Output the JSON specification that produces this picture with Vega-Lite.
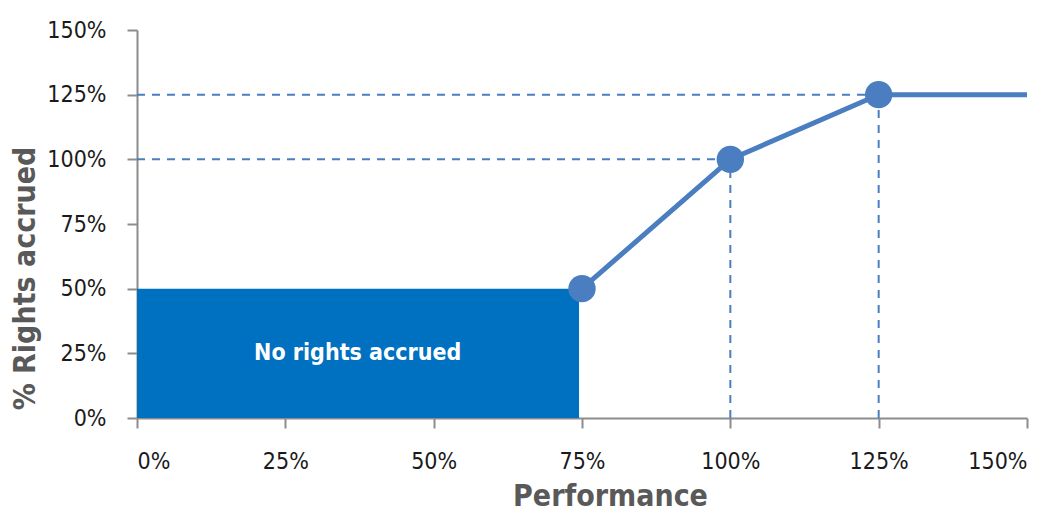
{
  "$schema": "https://vega.github.io/schema/vega-lite/v6.json",
  "autosize": "none",
  "width": 890,
  "height": 388,
  "padding": {"left": 137, "top": 30, "right": 29, "bottom": 94},
  "background": "white",
  "config": {
    "view": {"stroke": null},
    "font": "DejaVu Sans Condensed"
  },
  "datasets": {
    "box": [{"x": 0, "x2": 0.745, "y": 0, "y2": 0.5, "label": "No rights accrued", "lx": 0.372, "ly": 0.25}],
    "curve": [
      {"perf": 0.75, "rights": 0.5, "marker": true},
      {"perf": 1.0, "rights": 1.0, "marker": true},
      {"perf": 1.25, "rights": 1.25, "marker": true},
      {"perf": 1.5, "rights": 1.25, "marker": false}
    ],
    "guides": [
      {"x": 0, "x2": 1.25, "y": 1.25, "y2": 1.25},
      {"x": 0, "x2": 1.0, "y": 1.0, "y2": 1.0},
      {"x": 1.0, "x2": 1.0, "y": 0, "y2": 1.0},
      {"x": 1.25, "x2": 1.25, "y": 0, "y2": 1.25}
    ]
  },
  "layer": [
    {
      "data": {"name": "box"},
      "mark": {"type": "rect", "color": "#0070C0"},
      "encoding": {
        "x": {"field": "x", "type": "quantitative", "scale": {"domain": [0, 1.5], "nice": false},
          "axis": {"title": "Performance", "format": ".0%", "values": [0, 0.25, 0.5, 0.75, 1, 1.25, 1.5],
            "domainColor": "#8c8c8c", "domainWidth": 2, "tickColor": "#8c8c8c", "tickWidth": 2, "tickSize": 10,
            "labelFontSize": 23, "labelColor": "#1a1a1a", "labelPadding": 22, "labelFont": "DejaVu Sans Condensed",
            "titleFontSize": 30, "titleFontWeight": "bold", "titleColor": "#595959", "titlePadding": 8, "titleX": 473, "titleFont": "DejaVu Sans Condensed", "grid": false}},
        "x2": {"field": "x2"},
        "y": {"field": "y", "type": "quantitative", "scale": {"domain": [0, 1.5], "nice": false},
          "axis": {"title": "% Rights accrued", "format": ".0%", "values": [0, 0.25, 0.5, 0.75, 1, 1.25, 1.5],
            "domainColor": "#8c8c8c", "domainWidth": 2, "tickColor": "#8c8c8c", "tickWidth": 2, "tickSize": 10,
            "labelFontSize": 23, "labelColor": "#1a1a1a", "labelPadding": 21, "labelFont": "DejaVu Sans Condensed",
            "titleFontSize": 30, "titleFontWeight": "bold", "titleColor": "#595959", "titlePadding": 6, "titleY": 248, "titleAlign": "center", "titleFont": "DejaVu Sans Condensed", "grid": false}},
        "y2": {"field": "y2"}
      }
    },
    {
      "data": {"name": "box"},
      "mark": {"type": "text", "color": "white", "fontSize": 23, "fontWeight": "bold", "font": "DejaVu Sans Condensed"},
      "encoding": {
        "x": {"field": "lx", "type": "quantitative"},
        "y": {"field": "ly", "type": "quantitative"},
        "text": {"field": "label"}
      }
    },
    {
      "data": {"name": "guides"},
      "mark": {"type": "rule", "color": "#4A7EC0", "strokeWidth": 2, "strokeDash": [8, 7]},
      "encoding": {
        "x": {"field": "x", "type": "quantitative"},
        "x2": {"field": "x2"},
        "y": {"field": "y", "type": "quantitative"},
        "y2": {"field": "y2"}
      }
    },
    {
      "data": {"name": "curve"},
      "mark": {"type": "line", "color": "#4A7EC0", "strokeWidth": 5},
      "encoding": {
        "x": {"field": "perf", "type": "quantitative"},
        "y": {"field": "rights", "type": "quantitative"}
      }
    },
    {
      "data": {"name": "curve"},
      "transform": [{"filter": "datum.marker"}],
      "mark": {"type": "point", "filled": true, "opacity": 1, "color": "#4A7EC0", "size": 750},
      "encoding": {
        "x": {"field": "perf", "type": "quantitative"},
        "y": {"field": "rights", "type": "quantitative"}
      }
    }
  ]
}
